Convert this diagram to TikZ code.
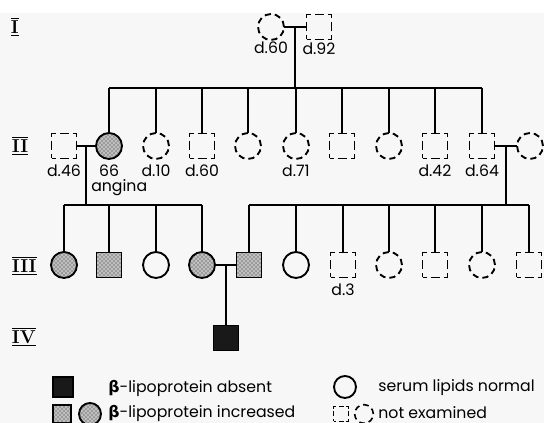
\documentclass[tikz,border=0pt]{standalone}
\usepackage{fontspec}
\setsansfont{Poppins}
\newfontfamily\grk{DejaVu Sans}
\usetikzlibrary{patterns}

\begin{document}
\begin{tikzpicture}[x=0.75pt,y=-0.75pt,line width=1.4pt,
  every node/.style={font=\sffamily\fontsize{11.8}{13}\selectfont},
  person/.style={draw,inner sep=0pt,outer sep=0pt},
  sq/.style={person,rectangle,minimum size=18.75pt},
  ci/.style={person,circle,minimum size=19.5pt},
  nexsq/.style={sq,dash pattern=on 6pt off 3pt on 6.75pt off 3pt,dash phase=3pt},
  nexci/.style={ci,dash pattern=on 4.66pt off 3pt},
  dots/.style={fill=black!25,postaction={pattern=crosshatch dots,pattern color=black!85}},
  incsq/.style={sq,dots},
  incci/.style={ci,dots},
  normci/.style={ci},
  abssq/.style={sq,fill=black!90},
  lab/.style={inner sep=1pt},
  gen/.style={anchor=west,inner sep=0pt,font=\rmfamily\bfseries\fontsize{14}{14}\selectfont},
  label distance=3pt]
 \useasboundingbox (0,0) rectangle (544,423);
 \fill[black!3] (0,13) rectangle (544,423);
 % generation labels
 \node[gen] (gI) at (10,27) {$\underline{\overline{\mbox{I}}}$};
 \node[gen] (gII) at (11,146) {$\underline{\overline{\mbox{II}}}$};
 \node[gen] (gIII) at (11,266) {$\underline{\overline{\mbox{III}}}$};
 \node[gen] (gIV) at (11,337) {$\underline{\overline{\mbox{IV}}}$};
 % generation I
 \node[nexci,label={[lab,label distance=0pt]below:d.60}] (If) at (271,27) {};
 \node[nexsq,label={[lab,label distance=1pt]below:d.92}] (Im) at (319,27) {};
 \draw (If.east) -- coordinate[midway] (Imar) (Im.west);
 \coordinate (sibI) at (0,88);
 % generation II
 \node[nexsq,label={[lab]below:d.46}] (IIa) at (64,146) {};
 \node[incci,label={[lab]below:66}] (IIb) at (109,146) {};
 \node[anchor=west,lab] (ang) at (89,188) {angina};
 \foreach \n/\x/\s/\l in {c/156/nexci/d.10,d/202/nexsq/d.60,e/248/nexci/,
   f/296/nexci/d.71,g/342/nexsq/,h/389/nexci/,i/435/nexsq/d.42,j/482/nexsq/d.64}
   \node[\s,label={[lab]below:\l}] (II\n) at (\x,146) {};
 \node[nexci] (IIk) at (530,146) {};
 \draw (Imar) -- (Imar |- sibI);
 \draw (IIb.north |- sibI) -- (IIj.north |- sibI);
 \foreach \n in {b,...,j}
   \draw (II\n.north) -- (II\n.north |- sibI);
 \draw (IIa.east) -- coordinate[midway] (IIl) (IIb.west);
 \draw (IIj.east) -- coordinate[midway] (IIr) (IIk.west);
 \coordinate (sibII) at (0,205);
 % generation III
 \node[incci] (IIIa) at (64,265) {};
 \node[incsq] (IIIb) at (109,265) {};
 \node[normci] (IIIc) at (156,265) {};
 \node[incci] (IIId) at (202,265) {};
 \node[incsq] (IIIe) at (249,265) {};
 \node[normci] (IIIf) at (296,265) {};
 \node[nexsq,label={[lab]below:d.3}] (IIIg) at (343,265) {};
 \node[nexci] (IIIh) at (389,265) {};
 \node[nexsq] (IIIi) at (435,265) {};
 \node[nexci] (IIIj) at (482,265) {};
 \node[nexsq] (IIIk) at (529,265) {};
 \draw (IIl) -- (IIl |- sibII);
 \draw (IIIa.north |- sibII) -- (IIId.north |- sibII);
 \draw (IIr) -- (IIr |- sibII);
 \draw (IIIe.north |- sibII) -- (IIIk.north |- sibII);
 \foreach \n in {a,...,k}
   \draw (III\n.north) -- (III\n.north |- sibII);
 \draw (IIId.east) -- coordinate[midway] (IIIm) (IIIe.west);
 % generation IV
 \node[abssq] (IV) at (226,338) {};
 \draw (IIIm) -- (IIIm |- IV.north);
 % key
 \begin{scope}[every node/.append style={anchor=west}]
  \node[abssq,anchor=center,minimum size=15pt] (kabs) at (63,387) {};
  \node (tabs) at (103,388) {{\grk\bfseries β}-lipoprotein absent};
  \node[incsq,anchor=center,minimum size=14pt] (kinsq) at (62,414) {};
  \node[incci,anchor=center,minimum size=16.5pt] (kinci) at (90,414) {};
  \node (tinc) at (103,413) {{\grk\bfseries β}-lipoprotein increased};
  \node[normci,anchor=center,minimum size=16.5pt] (knorm) at (345,387) {};
  \node (tnorm) at (373,388) {serum lipids normal};
  \node[nexsq,anchor=center,minimum size=11.25pt,line width=1.2pt,
    dash pattern=on 3.5pt off 2pt on 3.75pt off 2pt,dash phase=1.75pt] (knsq) at (341,414) {};
  \node[nexci,anchor=center,minimum size=14pt,line width=1.2pt,dash pattern=on 4.3pt off 3pt] (knci) at (364,414) {};
  \node (tnex) at (373,413) {not examined};
 \end{scope}
\end{tikzpicture}
\end{document}
